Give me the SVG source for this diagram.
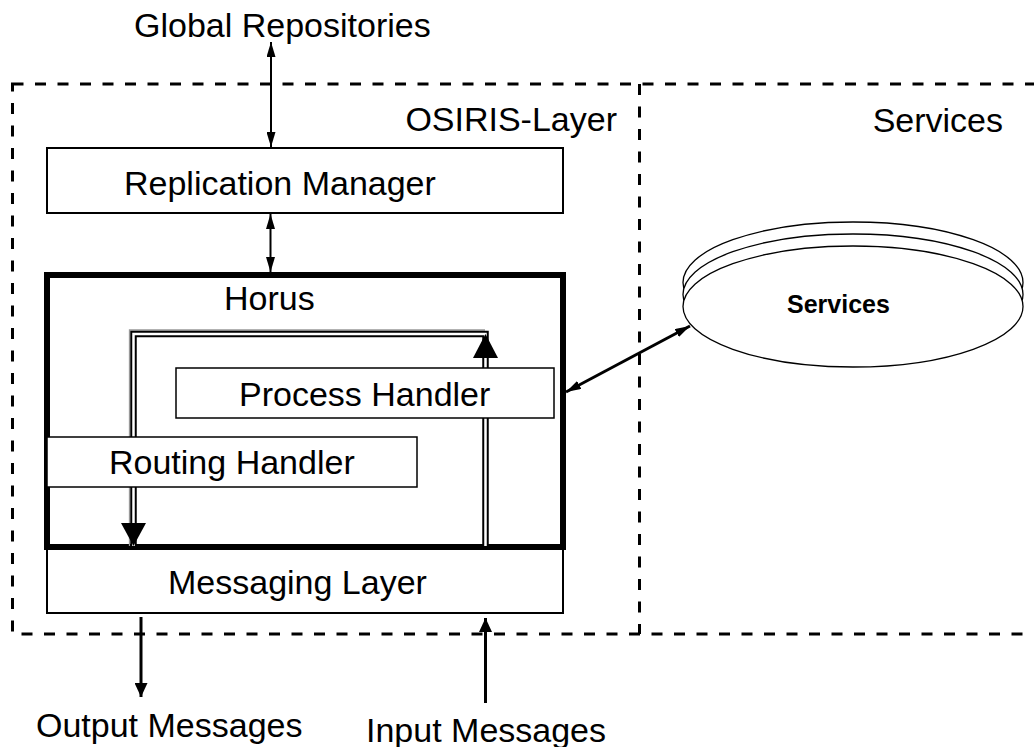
<svg xmlns="http://www.w3.org/2000/svg" width="1034" height="747" viewBox="0 0 1034 747">
  <defs>
    <style>
      text { font-family: "Liberation Sans", Arial, sans-serif; font-size: 34px; fill: #000; }
      .bold { font-weight: bold; font-size: 25px; }
      .box { fill: #fff; stroke: #000; stroke-width: 2; }
      .thin { fill: #fff; stroke: #000; stroke-width: 1.5; }
      .frame { fill: none; stroke: #000; stroke-width: 3; stroke-dasharray: 11 11.5; }
      .disk { fill: #fff; stroke: #000; stroke-width: 1.3; }
      .link { fill: none; stroke: #000; }
    </style>
    <marker id="headS" markerUnits="userSpaceOnUse" markerWidth="15" markerHeight="9" refX="15" refY="4.5" orient="auto-start-reverse">
      <path d="M0,0 L15,4.5 L0,9 z" fill="#000"/>
    </marker>
    <marker id="headM" markerUnits="userSpaceOnUse" markerWidth="14" markerHeight="13" refX="14" refY="6.5" orient="auto-start-reverse">
      <path d="M0,0 L14,6.5 L0,13 z" fill="#000"/>
    </marker>
  </defs>

  <!-- dashed layer frames -->
  <g id="layers">
    <rect class="frame" x="12.5" y="84" width="1040" height="550"/>
    <line class="frame" x1="639.5" y1="84" x2="639.5" y2="634"/>
    <text x="617" y="131" text-anchor="end">OSIRIS-Layer</text>
    <text x="1003" y="132" text-anchor="end">Services</text>
  </g>

  <text id="global-repositories" x="134" y="37">Global Repositories</text>

  <g id="replication-manager">
    <rect class="box" x="47" y="148" width="516" height="65"/>
    <text x="124" y="195">Replication Manager</text>
  </g>

  <g id="messaging-layer">
    <rect class="box" x="47" y="547" width="516" height="66"/>
    <text x="168" y="594">Messaging Layer</text>
  </g>

  <g id="horus">
    <rect x="47" y="275" width="516" height="272" fill="#fff" stroke="#000" stroke-width="6"/>
    <text x="224" y="310">Horus</text>
    <!-- message path through the handlers: drawn as a double line -->
    <path d="M129.5,546 V330 H485" fill="none" stroke="#999" stroke-width="1.3"/>
    <path d="M485.5,546 V334 H133.5 V546" fill="none" stroke="#000" stroke-width="6.5"/>
    <path d="M485.5,546 V334 H133.5 V546" fill="none" stroke="#fff" stroke-width="2.5"/>
    <polygon points="485.5,334 498,358 473,358" fill="#000"/>
    <polygon points="133.5,546 146,523 121,523" fill="#000"/>
  </g>

  <g id="process-handler">
    <rect class="thin" x="176" y="368" width="378" height="50"/>
    <text x="239" y="406">Process Handler</text>
  </g>

  <g id="routing-handler">
    <rect class="thin" x="47" y="437" width="370" height="50"/>
    <text x="109" y="474">Routing Handler</text>
  </g>

  <g id="services">
    <ellipse class="disk" cx="853" cy="282.5" rx="170" ry="60.5"/>
    <ellipse class="disk" cx="853" cy="294.5" rx="170" ry="60.5"/>
    <ellipse class="disk" cx="853" cy="306.5" rx="170" ry="60.5"/>
    <text class="bold" x="787" y="313">Services</text>
  </g>

  <g id="output-messages">
    <text x="36" y="737">Output Messages</text>
  </g>
  <g id="input-messages">
    <text x="366" y="742">Input Messages</text>
  </g>

  <!-- connectors -->
  <g id="connectors">
    <line class="link" x1="271" y1="42" x2="271" y2="147" stroke-width="2" marker-start="url(#headS)" marker-end="url(#headS)"/>
    <line class="link" x1="270.5" y1="214" x2="270.5" y2="272" stroke-width="2" marker-start="url(#headS)" marker-end="url(#headS)"/>
    <line class="link" x1="566" y1="392" x2="690" y2="326" stroke-width="3" marker-start="url(#headS)" marker-end="url(#headS)"/>
    <line class="link" x1="141" y1="617" x2="141" y2="697" stroke-width="3" marker-end="url(#headM)"/>
    <line class="link" x1="485.5" y1="703" x2="485.5" y2="618" stroke-width="3" marker-end="url(#headM)"/>
  </g>
</svg>
